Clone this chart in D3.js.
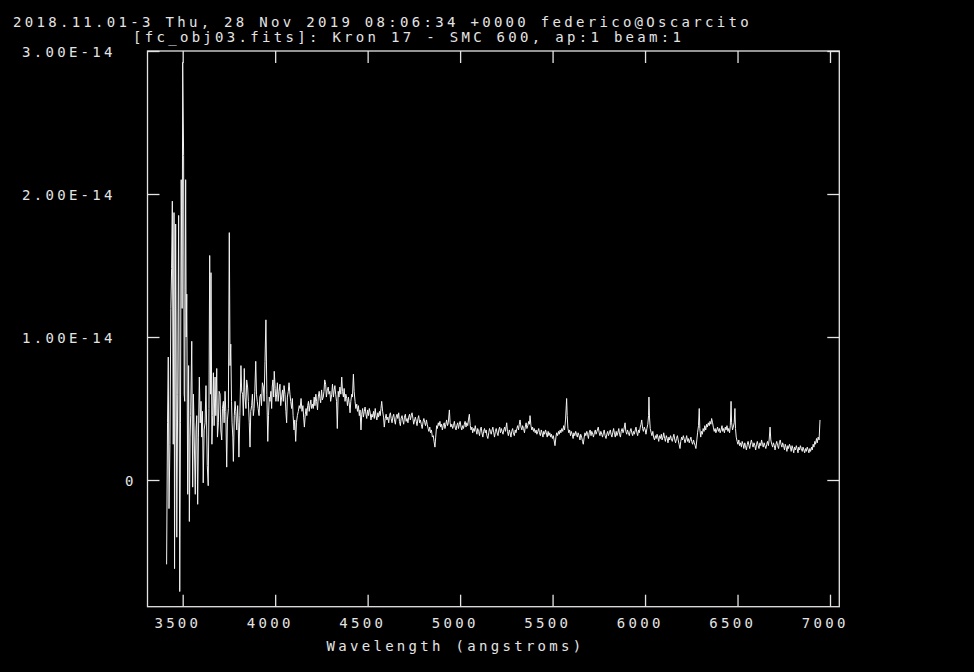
<!DOCTYPE html>
<html>
<head>
<meta charset="utf-8">
<script src="https://cdn.jsdelivr.net/npm/d3@7"></script>
<style>
  html, body { margin: 0; padding: 0; background: #000; }
  svg { display: block; }
</style>
</head>
<body>
<svg id="plot" width="974" height="672"></svg>
<script>
// splot header lines
const titleLines = [
  "2018.11.01-3 Thu, 28 Nov 2019 08:06:34 +0000 federico@Oscarcito",
  "[fc_obj03.fits]: Kron 17 - SMC 600, ap:1 beam:1"
];
const xAxisTitle = "Wavelength (angstroms)";

// axis ranges and ticks
const xDomain = [3309.7, 7050.3];
const yDomain = [-0.886e-14, 3.0e-14];
const xTicks = [3500, 4000, 4500, 5000, 5500, 6000, 6500, 7000];
const yTicks = [0, 1e-14, 2e-14, 3e-14];
const yTickLabels = ["0", "1.00E-14", "2.00E-14", "3.00E-14"];

// flux scale of the spectrum table below
const fluxUnit = 1e-16;

// [wavelength (A), flux (1e-16 erg/cm2/s/A)]
const spectrum = [
  [3413,-59],[3418,40],[3422,86],[3426,-20],[3431,25],[3436,120],[3440,148],[3444,195],[3449,25],[3453,187],
  [3456,-62],[3462,179],[3468,-40],[3473,60],[3478,185],[3484,-78],[3488,40],[3492,210],[3497,120],[3500,292],
  [3505,227],[3508,60],[3511,55],[3516,210],[3519,100],[3522,130],[3527,-10],[3532,80],[3536,-29],[3540,30],
  [3543,45],[3549,97],[3554,-5],[3558,60],[3561,40],[3568,-10],[3572,35],[3576,45],[3581,-17],[3585,30],
  [3590,72],[3595,40],[3599,55],[3603,30],[3607,48],[3611,-2],[3616,35],[3621,40],[3626,66],[3633,10],
  [3638,-4],[3642,50],[3646,157],[3650,60],[3653,145],[3658,25],[3662,45],[3666,75],[3670,38],[3675,72],
  [3679,45],[3684,78],[3688,30],[3693,40],[3697,62],[3702,60],[3706,35],[3711,28],[3715,50],[3720,55],
  [3724,40],[3729,62],[3733,48],[3738,9],[3742,42],[3747,50],[3752,173],[3756,80],[3760,95],[3764,55],
  [3767,40],[3771,30],[3774,13],[3779,45],[3783,55],[3787,48],[3792,35],[3797,52],[3800,40],[3804,16],
  [3809,45],[3815,80],[3819,62],[3824,60],[3828,45],[3833,78],[3837,58],[3842,50],[3846,70],[3851,65],
  [3855,55],[3860,40],[3864,23],[3868,48],[3873,52],[3877,60],[3882,45],[3886,50],[3890,62],[3895,83],
  [3899,60],[3903,55],[3908,50],[3913,45],[3917,58],[3922,60],[3926,52],[3931,68],[3936,65],[3940,55],
  [3945,83],[3950,112],[3955,60],[3960,27],[3964,45],[3968,58],[3972,55],[3977,62],[3981,50],[3984,65],
  [3988,70],[3992,58],[3995,76],[4000,64],[4004,55],[4008,60],[4012,68],[4016,55],[4021,62],[4026,67],
  [4030,52],[4035,58],[4040,63],[4044,55],[4048,66],[4053,60],[4058,48],[4062,40],[4066,58],[4071,62],
  [4075,68],[4080,60],[4084,55],[4089,50],[4093,57],[4097,45],[4102,35],[4106,42],[4111,27],[4115,40],
  [4120,45],[4125,48],[4130,52],[4135,50],[4140,57],[4145,48],[4150,52],[4154,44],[4158,37],[4163,46],
  [4167,50],[4171,45],[4176,52],[4180,55],[4184,48],[4188,52],[4193,56],[4197,50],[4202,53],[4206,50],
  [4211,58],[4215,52],[4220,60],[4224,55],[4229,49],[4233,58],[4238,62],[4242,57],[4246,54],[4251,63],
  [4255,56],[4260,58],[4264,62],[4268,70],[4273,67],[4277,58],[4282,63],[4287,65],[4291,60],[4296,62],
  [4300,55],[4306,60],[4310,67],[4315,58],[4319,63],[4323,66],[4327,60],[4332,55],[4336,36],[4341,62],
  [4345,58],[4350,65],[4355,60],[4360,72],[4364,62],[4369,58],[4373,64],[4378,55],[4382,60],[4387,57],
  [4391,52],[4396,58],[4400,54],[4405,47],[4409,55],[4414,60],[4418,58],[4423,74],[4427,62],[4432,55],
  [4436,50],[4441,53],[4445,48],[4450,52],[4455,45],[4459,49],[4464,35],[4468,46],[4473,50],[4477,44],
  [4482,48],[4486,51],[4491,46],[4495,43],[4500,49],[4505,45],[4509,50],[4514,47],[4518,42],[4523,46],
  [4527,44],[4532,48],[4536,43],[4541,50],[4545,45],[4550,42],[4555,47],[4559,44],[4564,48],[4568,45],
  [4572,50],[4576,55],[4581,48],[4586,44],[4590,37],[4595,43],[4600,46],[4604,42],[4609,44],[4614,40],
  [4618,45],[4623,47],[4627,43],[4632,40],[4636,44],[4641,46],[4645,42],[4650,39],[4654,44],[4659,46],
  [4663,43],[4668,47],[4672,41],[4677,38],[4681,43],[4686,45],[4690,42],[4695,39],[4699,44],[4704,46],
  [4708,41],[4713,43],[4718,40],[4722,44],[4727,46],[4731,42],[4736,45],[4740,47],[4745,43],[4749,39],
  [4754,42],[4758,44],[4763,41],[4767,38],[4772,43],[4776,45],[4781,40],[4785,42],[4790,39],[4795,36],
  [4800,41],[4804,43],[4809,40],[4813,38],[4818,42],[4822,39],[4827,36],[4831,34],[4836,37],[4840,33],
  [4845,35],[4850,30],[4855,31],[4859,27],[4864,23],[4868,30],[4873,38],[4877,36],[4882,40],[4886,38],
  [4891,41],[4895,37],[4900,39],[4904,35],[4909,38],[4914,40],[4918,36],[4923,39],[4927,42],[4932,38],
  [4936,40],[4942,49],[4946,40],[4950,37],[4955,39],[4960,36],[4964,38],[4969,41],[4973,37],[4978,35],
  [4982,38],[4987,40],[4991,36],[4996,39],[5000,41],[5005,37],[5009,35],[5014,38],[5018,36],[5023,39],
  [5027,41],[5032,37],[5036,40],[5041,38],[5045,42],[5050,46],[5055,38],[5059,35],[5064,37],[5068,33],
  [5073,36],[5077,34],[5082,38],[5086,35],[5091,32],[5095,36],[5100,34],[5105,31],[5109,35],[5114,37],
  [5118,33],[5123,30],[5127,34],[5132,36],[5136,33],[5141,35],[5145,31],[5150,29],[5155,33],[5159,36],
  [5164,34],[5168,32],[5173,35],[5177,37],[5182,33],[5186,30],[5191,34],[5195,36],[5200,33],[5205,31],
  [5209,35],[5214,37],[5218,33],[5223,36],[5227,34],[5232,32],[5236,35],[5241,37],[5245,34],[5252,40],
  [5256,34],[5261,31],[5266,35],[5270,33],[5275,30],[5279,34],[5284,36],[5288,33],[5293,31],[5298,35],
  [5302,33],[5307,36],[5311,38],[5316,35],[5320,39],[5324,42],[5329,37],[5334,35],[5338,38],[5343,36],
  [5348,33],[5352,37],[5357,40],[5361,36],[5366,38],[5371,41],[5375,39],[5378,45],[5383,38],[5388,35],
  [5392,37],[5397,34],[5401,36],[5406,33],[5411,35],[5415,32],[5420,34],[5425,36],[5429,33],[5434,31],
  [5439,35],[5443,33],[5448,30],[5452,34],[5457,32],[5462,35],[5466,33],[5471,30],[5476,34],[5480,31],
  [5485,33],[5490,30],[5494,32],[5499,29],[5504,31],[5508,28],[5513,24],[5518,30],[5522,33],[5527,31],
  [5532,34],[5536,32],[5541,35],[5545,33],[5550,36],[5555,34],[5560,38],[5565,35],[5570,42],[5574,52],
  [5576,57],[5579,45],[5583,36],[5588,33],[5592,35],[5597,31],[5601,34],[5606,32],[5611,29],[5615,33],
  [5620,31],[5625,34],[5629,32],[5634,30],[5638,33],[5643,31],[5648,28],[5652,32],[5657,30],[5662,27],
  [5666,25],[5671,30],[5675,33],[5680,31],[5685,34],[5689,32],[5694,29],[5698,33],[5703,35],[5708,31],
  [5712,34],[5717,32],[5721,30],[5726,33],[5731,35],[5735,32],[5740,34],[5747,37],[5752,33],[5756,31],
  [5761,34],[5766,32],[5770,30],[5775,33],[5779,35],[5784,31],[5789,29],[5793,32],[5798,34],[5802,31],
  [5807,33],[5812,35],[5816,32],[5821,30],[5825,33],[5830,36],[5835,32],[5839,30],[5844,34],[5848,31],
  [5853,33],[5858,36],[5862,32],[5867,30],[5871,34],[5876,36],[5881,33],[5885,35],[5892,40],[5896,34],
  [5901,32],[5905,35],[5910,33],[5915,31],[5919,34],[5924,36],[5928,33],[5933,31],[5937,34],[5942,32],
  [5947,35],[5951,37],[5956,33],[5960,31],[5965,35],[5969,33],[5974,37],[5978,39],[5982,42],[5987,36],
  [5991,34],[5996,37],[6001,35],[6005,32],[6010,36],[6015,39],[6019,45],[6021,58],[6024,44],[6028,36],
  [6033,33],[6037,31],[6042,34],[6046,30],[6051,28],[6056,31],[6060,29],[6065,32],[6069,30],[6074,27],
  [6078,31],[6083,29],[6088,32],[6092,28],[6097,30],[6101,33],[6106,29],[6110,27],[6115,31],[6120,29],
  [6124,26],[6129,30],[6133,28],[6138,31],[6142,29],[6147,27],[6152,30],[6156,32],[6161,28],[6165,26],
  [6170,29],[6175,31],[6179,28],[6184,25],[6189,22],[6193,27],[6198,30],[6202,28],[6207,31],[6211,29],
  [6216,26],[6220,28],[6225,31],[6230,27],[6234,29],[6239,26],[6243,28],[6248,30],[6252,27],[6257,25],
  [6262,28],[6266,26],[6271,24],[6275,22],[6280,28],[6284,33],[6289,38],[6293,50],[6296,36],[6301,30],
  [6305,34],[6310,32],[6314,36],[6319,34],[6323,38],[6328,35],[6333,39],[6337,37],[6342,40],[6347,38],
  [6351,41],[6356,39],[6360,43],[6365,40],[6369,37],[6374,34],[6379,36],[6383,33],[6388,35],[6392,37],
  [6397,34],[6402,36],[6406,33],[6411,35],[6416,38],[6420,34],[6425,36],[6429,33],[6434,37],[6438,35],
  [6443,38],[6448,34],[6452,36],[6457,33],[6461,38],[6465,55],[6468,40],[6473,35],[6477,37],[6482,40],
  [6486,50],[6489,36],[6493,30],[6498,27],[6502,25],[6507,28],[6511,24],[6516,26],[6521,23],[6525,27],
  [6530,25],[6534,22],[6539,26],[6543,24],[6548,21],[6553,25],[6557,27],[6562,24],[6566,22],[6571,26],
  [6575,28],[6580,25],[6584,23],[6589,26],[6594,24],[6598,21],[6603,25],[6607,27],[6612,24],[6616,22],
  [6621,26],[6626,24],[6630,28],[6635,25],[6639,23],[6644,26],[6648,24],[6653,22],[6658,25],[6662,27],
  [6667,24],[6671,28],[6676,37],[6680,28],[6685,25],[6690,23],[6694,26],[6699,24],[6703,21],[6708,25],
  [6712,27],[6717,24],[6722,22],[6726,26],[6731,28],[6735,25],[6740,23],[6744,26],[6749,24],[6754,21],
  [6758,25],[6763,23],[6767,20],[6772,24],[6776,22],[6781,25],[6786,23],[6790,20],[6795,24],[6799,22],
  [6804,19],[6808,23],[6813,21],[6818,24],[6822,22],[6827,19],[6831,23],[6836,21],[6840,24],[6845,22],
  [6850,20],[6854,23],[6859,21],[6863,19],[6868,22],[6872,20],[6877,23],[6882,21],[6886,19],[6891,22],
  [6895,20],[6900,23],[6904,21],[6909,25],[6913,23],[6918,27],[6922,25],[6927,29],[6931,26],[6936,30],
  [6941,28],[6946,42]
];

// ---- drawing ----
const ink = "#e4e4e4";
const font = "'DejaVu Sans Mono', 'Liberation Mono', monospace";
const fontSize = 14;
const spacing = 3.3;

const frame = { left: 147.5, right: 839.3, top: 51, bottom: 606.7 };
const tickLen = 12;

const svg = d3.select("#plot");
svg.append("rect").attr("width", 974).attr("height", 672).attr("fill", "#000");

const x = d3.scaleLinear().domain(xDomain).range([frame.left, frame.right]);
const y = d3.scaleLinear().domain(yDomain).range([frame.bottom, frame.top]);

function styleAxis(g) {
  g.selectAll(".domain").remove();
  g.selectAll(".tick line").attr("stroke", ink).attr("stroke-width", 1.3);
  g.selectAll("text")
    .attr("fill", ink)
    .attr("font-family", font)
    .attr("font-size", fontSize)
    .attr("letter-spacing", spacing);
}

// frame
svg.append("rect")
  .attr("x", frame.left).attr("y", frame.top)
  .attr("width", frame.right - frame.left).attr("height", frame.bottom - frame.top)
  .attr("fill", "none").attr("stroke", ink).attr("stroke-width", 1.3);

// bottom axis with labels, ticks pointing inward
svg.append("g")
  .attr("transform", `translate(0,${frame.bottom})`)
  .call(d3.axisBottom(x).tickValues(xTicks).tickSizeInner(-tickLen).tickSizeOuter(0)
        .tickFormat(d3.format("d")))
  .call(styleAxis)
  .call(g => g.selectAll("text")
    .attr("y", 21).attr("dy", null)
    .attr("x", -7 + spacing / 2)
    .attr("text-anchor", "middle"));

// top axis, ticks only
svg.append("g")
  .attr("transform", `translate(0,${frame.top})`)
  .call(d3.axisTop(x).tickValues(xTicks).tickSizeInner(-tickLen).tickSizeOuter(0).tickFormat(""))
  .call(styleAxis);

// left axis with labels
svg.append("g")
  .attr("transform", `translate(${frame.left},0)`)
  .call(d3.axisLeft(y).tickValues(yTicks).tickSizeInner(-tickLen).tickSizeOuter(0)
        .tickFormat((d, i) => yTickLabels[i]))
  .call(styleAxis)
  .call(g => g.selectAll("text")
    .attr("dy", null).attr("y", 5)
    .attr("text-anchor", "end")
    .attr("x", (d, i) => -14 - (yTickLabels[i].length - 1) * 3 + spacing));

// right axis, ticks only
svg.append("g")
  .attr("transform", `translate(${frame.right},0)`)
  .call(d3.axisRight(y).tickValues(yTicks).tickSizeInner(-tickLen).tickSizeOuter(0).tickFormat(""))
  .call(styleAxis);

// spectrum
const line = d3.line()
  .x(d => x(d[0]))
  .y(d => y(d[1] * fluxUnit));

svg.append("path")
  .datum(spectrum)
  .attr("d", line)
  .attr("fill", "none")
  .attr("stroke", "#f2f2f2")
  .attr("stroke-width", 1)
  .attr("stroke-linejoin", "miter");

// header text
const textStyle = sel => sel
  .attr("fill", ink)
  .attr("font-family", font)
  .attr("font-size", fontSize)
  .attr("letter-spacing", spacing);

svg.append("text").attr("x", 13).attr("y", 27).text(titleLines[0]).call(textStyle);
svg.append("text").attr("x", 133).attr("y", 42).text(titleLines[1]).call(textStyle);

// x axis title
svg.append("text").attr("x", 326.5).attr("y", 651).text(xAxisTitle).call(textStyle);
</script>
</body>
</html>
